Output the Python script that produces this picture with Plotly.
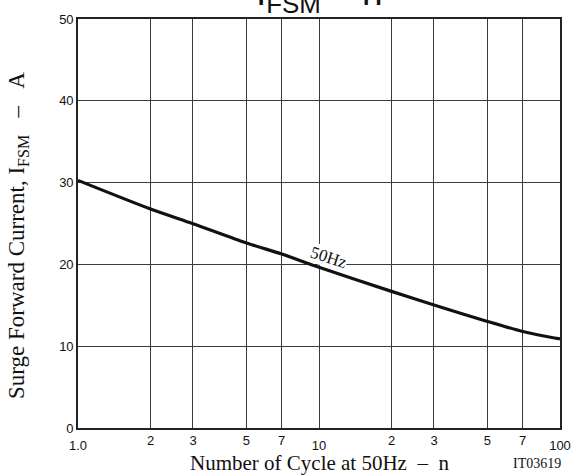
import math
import plotly.graph_objects as go

# Data (50 Hz)
cycles = [1, 2, 3, 5, 7, 10, 20, 30, 50, 70, 100]
ifsm = [30.27, 26.77, 24.98, 22.62, 21.27, 19.65, 16.7, 15.04, 13.03, 11.8, 10.88]

x_minor_vals = [2, 3, 5, 7, 20, 30, 50, 70]
x_minor_text = ["2", "3", "5", "7", "2", "3", "5", "7"]
x_decade_vals = [1, 10, 100]
x_decade_text = ["1.0", "10", "100"]
y_tick_vals = [0, 10, 20, 30, 40, 50]

curve_label = "50Hz"
curve_label_x = 11.0
curve_label_y = 20.8

SANS = "Liberation Sans, Arial, sans-serif"
SERIF = "Liberation Serif, Times New Roman, serif"
INK = "#111111"
GRID = "#3a3a3a"

fig = go.Figure()
fig.add_trace(go.Scatter(
    x=cycles, y=ifsm, mode="lines",
    line=dict(color=INK, width=3.2, shape="spline", smoothing=0.7),
    hoverinfo="skip", showlegend=False,
))
# invisible trace so the overlaid decade axis is drawn
fig.add_trace(go.Scatter(
    x=x_decade_vals, y=[None] * len(x_decade_vals), xaxis="x2", mode="lines",
    hoverinfo="skip", showlegend=False,
))

NB = "\u00a0"
annotations = [
    dict(x=math.log10(curve_label_x), y=curve_label_y, xref="x", yref="y",
         text=curve_label, showarrow=False, textangle=18, bgcolor="white",
         borderpad=0, font=dict(family=SERIF, size=17, color=INK)),
    dict(x=-0.124, y=0.47, xref="paper", yref="paper",
         text="Surge Forward Current, I<sub>FSM</sub>" + NB * 3 + "\u2013" + NB * 3 + "A",
         showarrow=False, textangle=-90, xanchor="center", yanchor="middle",
         font=dict(family=SERIF, size=23, color=INK)),
    dict(x=0.5, y=-0.085, xref="paper", yref="paper",
         text="Number of Cycle at 50Hz" + NB * 2 + "\u2013" + NB * 2 + "n",
         showarrow=False, xanchor="center", yanchor="middle",
         font=dict(family=SERIF, size=21, color=INK)),
    dict(x=0.953, y=-0.088, xref="paper", yref="paper", text="IT03619",
         showarrow=False, xanchor="center", yanchor="middle",
         font=dict(family=SERIF, size=14, color=INK)),
    dict(x=0.5, y=1, xref="paper", yref="paper",
         text="I<sub>FSM</sub>" + NB + "\u2013" + NB + "n",
         showarrow=False, xanchor="center", yanchor="bottom", yshift=-1,
         font=dict(family=SANS, size=37, color=INK)),
]

axis_common = dict(
    showline=True, linecolor="#222", linewidth=1.6, mirror=True,
    ticks="", zeroline=False,
    tickfont=dict(family=SANS, size=13, color=INK),
)

fig.update_layout(
    width=583, height=475,
    margin=dict(l=78, r=14, t=19, b=47),
    paper_bgcolor="white", plot_bgcolor="white",
    showlegend=False,
    annotations=annotations,
    xaxis=dict(
        type="log", range=[0, 2],
        tickmode="array", tickvals=x_minor_vals, ticktext=x_minor_text,
        showgrid=True, gridcolor=GRID, gridwidth=1,
        ticklabelstandoff=0,
        **axis_common,
    ),
    xaxis2=dict(
        type="log", range=[0, 2], overlaying="x", anchor="y", side="bottom",
        tickmode="array", tickvals=x_decade_vals, ticktext=x_decade_text,
        showgrid=True, gridcolor=GRID, gridwidth=1,
        ticklabelstandoff=5,
        **axis_common,
    ),
    yaxis=dict(
        range=[0, 50],
        tickmode="array", tickvals=y_tick_vals,
        showgrid=True, gridcolor=GRID, gridwidth=1,
        ticklabelstandoff=0,
        **axis_common,
    ),
)

fig.write_html("out.html", config={"displayModeBar": False},
               post_script="document.body.style.margin='0px';")
